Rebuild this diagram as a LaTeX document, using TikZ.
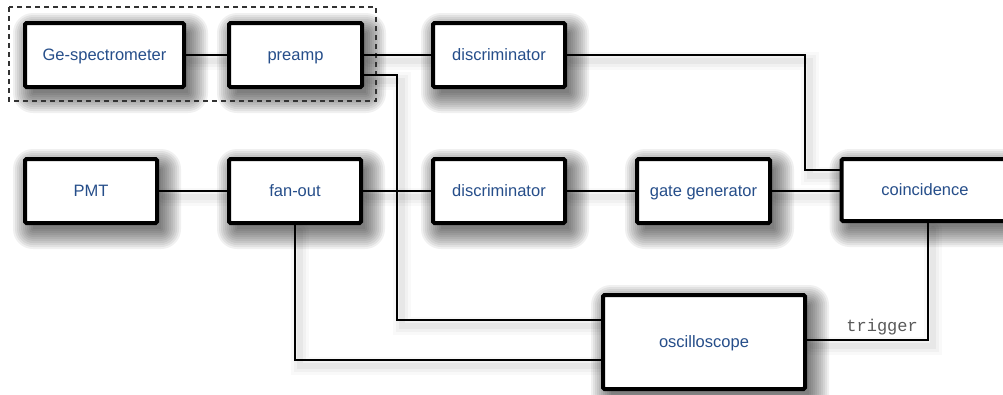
\documentclass[tikz,border=0pt]{standalone}
\usepackage{fontspec}
\setmainfont{Liberation Sans}
\newfontfamily\labelmono{Liberation Mono}
\usetikzlibrary{calc}
\pgfdeclarelayer{background}
\pgfsetlayers{background,main}
\definecolor{boxtext}{RGB}{38,78,138}
\definecolor{trigtext}{RGB}{90,90,90}
\tikzset{
  unit/.style={draw=black, line width=4pt, fill=white, rounded corners=1.5pt,
    minimum width=132pt, minimum height=64pt, inner sep=0pt,
    text height=13pt, text depth=3pt,
    text=boxtext, font=\fontsize{16.5}{20}\selectfont},
  wire/.style={draw=black, line width=1.8pt},
  wireshade/.style={draw=black, line cap=round},
  group/.style={draw=black!80, line width=1.2pt, dash pattern=on 5pt off 4pt},
}
% soft drop shadow behind a unit: stacked translucent rectangles
\newcommand\boxshade[1]{%
  \begin{pgfonlayer}{background}
    \begin{scope}[transform canvas={xshift=6pt,yshift=-8pt}]
      \foreach \r in {-4,-2,...,16}{%
        \fill[black, opacity=0.06, rounded corners=\r pt+4pt]
          ([xshift=-\r pt, yshift=-\r pt]#1.south west) rectangle
          ([xshift=\r pt, yshift=\r pt]#1.north east);}
    \end{scope}
  \end{pgfonlayer}}
% a connector with a soft shadow underneath it
\newcommand\wire[1]{%
  \begin{pgfonlayer}{background}
    \begin{scope}[transform canvas={xshift=5pt,yshift=-6pt}]
      \foreach \w/\o in {18/0.025,12/0.03,6/0.04}{\draw[wireshade, line width=\w pt, opacity=\o] #1;}
    \end{scope}
  \end{pgfonlayer}
  \draw[wire] #1;}
\begin{document}
\begin{tikzpicture}[x=1pt, y=-1pt]
  \useasboundingbox (0,0) rectangle (1003,394);
  \begin{pgfonlayer}{background}
    \fill[white] (0,0) rectangle (1003,394);
  \end{pgfonlayer}

  % detector units
  \node[unit, minimum width=159pt] (ge)     at (104.5,55) {Ge-spectrometer};
  \node[unit, minimum width=133pt] (preamp) at (295.5,55) {preamp};
  \node[unit]                      (disc1)  at (499,55)   {discriminator};
  \node[unit]                      (pmt)    at (91,191)   {PMT};
  \node[unit]                      (fanout) at (295,191)  {fan-out};
  \node[unit]                      (disc2)  at (499,191)  {discriminator};
  \node[unit, minimum width=133pt] (gate)   at (703.5,191) {gate generator};
  \node[unit, minimum width=167pt, minimum height=62pt] (coin) at (925,190) {coincidence};
  \node[unit, minimum width=202pt, minimum height=94pt] (osc)  at (704,342) {oscilloscope};
  \foreach \n in {ge,preamp,disc1,pmt,fanout,disc2,gate,coin,osc}{\boxshade{\n}}

  % dashed frame around the germanium detector chain
  \draw[group] (9,7) rectangle (376,101);

  % bend points of the routed connectors
  \coordinate (bendA) at (805,55);
  \coordinate (bendB) at (397,75);
  \coordinate (bendC) at (928,340);

  % connectors
  \wire{(ge) -- (preamp)}
  \wire{(preamp) -- (disc1)}
  \wire{(disc1.east) -- (bendA) |- ([yshift=20pt]coin.west)}
  \wire{([yshift=-20pt]preamp.east) -- (bendB) |- ([yshift=22pt]osc.west)}
  \wire{(pmt) -- (fanout)}
  \wire{(fanout) -- (disc2)}
  \wire{(disc2) -- (gate)}
  \wire{(gate.east) -- (gate.east -| coin.west)}
  \wire{(fanout.south) |- ([yshift=-18pt]osc.west)}
  \wire{(coin.south -| bendC) -- (bendC) -- (bendC -| osc.east)}

  \node[anchor=south east, inner sep=0pt, text=trigtext,
        font=\labelmono\fontsize{17}{20}\selectfont] (trig) at (918,335) {trigger};
\end{tikzpicture}
\end{document}
